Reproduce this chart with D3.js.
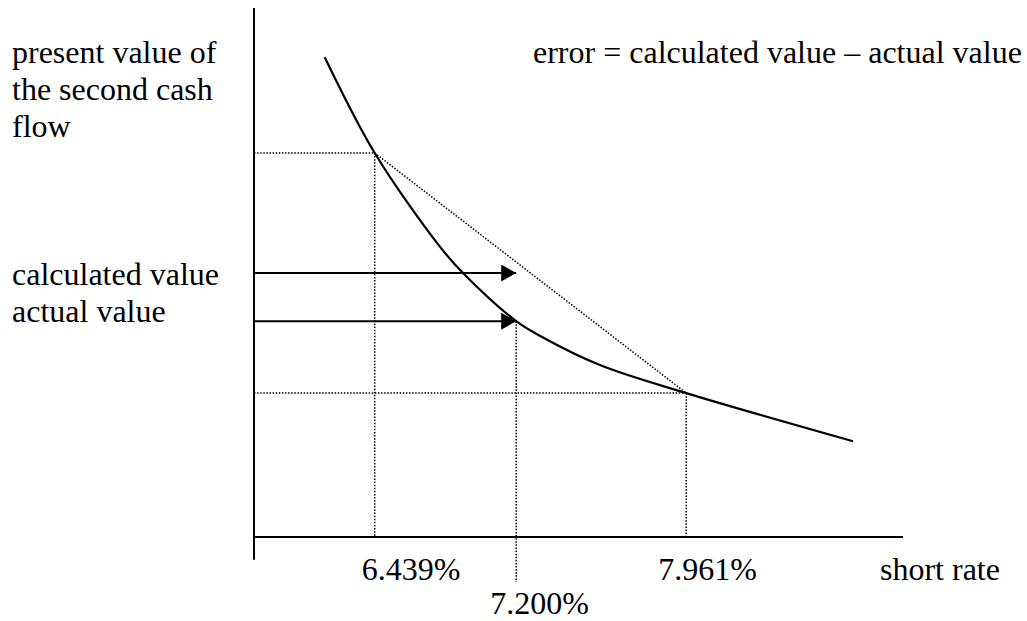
<!DOCTYPE html>
<html>
<head>
<meta charset="utf-8">
<script src="https://cdn.jsdelivr.net/npm/d3@7"></script>
<style>
  body { margin: 0; background: #fff; }
  text { font-family: "Liberation Serif", "Times New Roman", serif; font-size: 32px; fill: #000; }
</style>
</head>
<body>
<div id="chart"></div>
<script>
// schematic units: x = short rate position (0-100), y = present value (0-100)
var curveX = [10.9, 18.6, 28.7, 32.2, 40.4, 44.1, 53.3, 66.6, 92.3];
var curveY = [90.7, 72.6, 54.8, 49.9, 40.8, 38.0, 32.5, 27.2, 18.1];

var rateNames = ["low", "mid", "high"];
var ratePos = [18.6, 40.4, 66.6];
var rateValue = [72.6, 40.8, 27.2];
var rateLabels = ["6.439%", "7.200%", "7.961%"];

var arrowNames = ["calculated value", "actual value"];
var arrowY = [49.9, 40.8];

var yTitle = ["present value of", "the second cash", "flow"];
var xTitle = "short rate";
var errorNote = "error = calculated value \u2013 actual value";

var width = 1027, height = 621;

var x = d3.scaleLinear().domain([0, 100]).range([254, 903]);
var y = d3.scaleLinear().domain([0, 100]).range([537, 8]);

var svg = d3.select("#chart").append("svg")
    .attr("width", width)
    .attr("height", height);

svg.append("defs").append("marker")
    .attr("id", "head")
    .attr("markerUnits", "userSpaceOnUse")
    .attr("markerWidth", 16)
    .attr("markerHeight", 17)
    .attr("refX", 15)
    .attr("refY", 8.5)
    .attr("orient", "auto")
    .append("path")
    .attr("d", "M0,0 L15,8.5 L0,17 Z")
    .attr("fill", "#000");

// axes
svg.append("line")
    .attr("x1", x(0)).attr("x2", x(0))
    .attr("y1", y(100)).attr("y2", y(-4.3))
    .attr("stroke", "#000").attr("stroke-width", 2);

svg.append("line")
    .attr("x1", x(0)).attr("x2", x(100))
    .attr("y1", y(0)).attr("y2", y(0))
    .attr("stroke", "#000").attr("stroke-width", 2);

var dotted = svg.append("g")
    .attr("stroke", "#000")
    .attr("stroke-width", 1.5)
    .attr("stroke-dasharray", "1.5,1.6");

// horizontal guides for the two end points
[0, 2].forEach(function(i) {
    dotted.append("line")
        .attr("x1", x(0)).attr("x2", x(ratePos[i]))
        .attr("y1", y(rateValue[i])).attr("y2", y(rateValue[i]));
});

// vertical guides
ratePos.forEach(function(p, i) {
    dotted.append("line")
        .attr("x1", x(p)).attr("x2", x(p))
        .attr("y1", y(rateValue[i]))
        .attr("y2", rateNames[i] === "mid" ? y(-8.5) : y(0));
});

// chord between 6.439% and 7.961%
dotted.append("line")
    .attr("x1", x(ratePos[0])).attr("y1", y(rateValue[0]))
    .attr("x2", x(ratePos[2])).attr("y2", y(rateValue[2]));

// present value curve
var pts = curveX.map(function(d, i) { return [d, curveY[i]]; });
svg.append("path")
    .datum(pts)
    .attr("fill", "none")
    .attr("stroke", "#000")
    .attr("stroke-width", 2.2)
    .attr("d", d3.line()
        .x(function(d) { return x(d[0]); })
        .y(function(d) { return y(d[1]); })
        .curve(d3.curveCatmullRom.alpha(0.5)));

// arrows
svg.selectAll(".arrow")
    .data(arrowY)
    .enter().append("line")
    .attr("class", "arrow")
    .attr("x1", x(0))
    .attr("x2", x(ratePos[1]))
    .attr("y1", function(d) { return y(d); })
    .attr("y2", function(d) { return y(d); })
    .attr("stroke", "#000")
    .attr("stroke-width", 2)
    .attr("marker-end", "url(#head)");

// texts
svg.selectAll(".ytitle")
    .data(yTitle)
    .enter().append("text")
    .attr("class", "ytitle")
    .attr("x", 12)
    .attr("y", function(d, i) { return 63 + i * 37; })
    .text(function(d) { return d; });

svg.selectAll(".arrowlab")
    .data(arrowNames)
    .enter().append("text")
    .attr("class", "arrowlab")
    .attr("x", 12)
    .attr("y", function(d, i) { return 285 + i * 37; })
    .text(function(d) { return d; });

svg.append("text")
    .attr("x", 533)
    .attr("y", 63)
    .text(errorNote);

// rate labels start a little left of their guides, as in the original
var labelShift = [13, 26, 28];
svg.selectAll(".ratelab")
    .data(rateLabels)
    .enter().append("text")
    .attr("class", "ratelab")
    .attr("x", function(d, i) { return x(ratePos[i]) - labelShift[i]; })
    .attr("y", function(d, i) { return rateNames[i] === "mid" ? 614 : 580; })
    .text(function(d) { return d; });

svg.append("text")
    .attr("x", 880)
    .attr("y", 580)
    .text(xTitle);
</script>
</body>
</html>
